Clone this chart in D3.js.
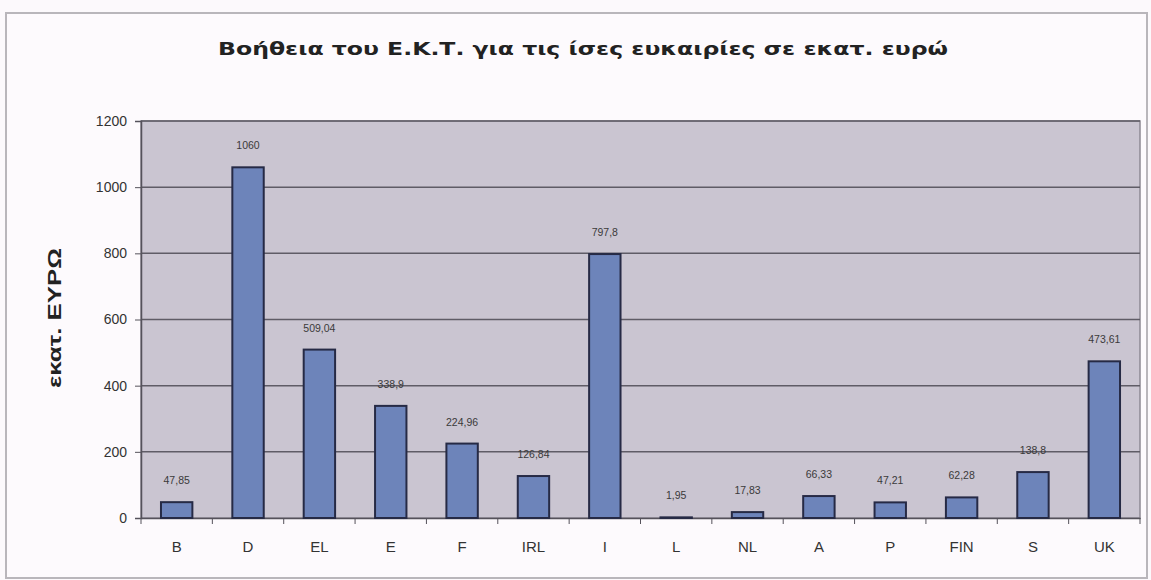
<!DOCTYPE html>
<html>
<head>
<meta charset="utf-8">
<script src="https://cdn.jsdelivr.net/npm/d3@7"></script>
<style>
  html, body { margin: 0; padding: 0; background: #fcf9fc; }
  svg { display: block; }
</style>
</head>
<body>
<svg id="chart" width="1151" height="580"></svg>
<script>
// ESF aid per member state, million euro
const countries = ["B", "D", "EL", "E", "F", "IRL", "I", "L", "NL", "A", "P", "FIN", "S", "UK"];
const amounts = [47.85, 1060, 509.04, 338.9, 224.96, 126.84, 797.8, 1.95, 17.83, 66.33, 47.21, 62.28, 138.8, 473.61];
const valueLabels = ["47,85", "1060", "509,04", "338,9", "224,96", "126,84", "797,8", "1,95", "17,83", "66,33", "47,21", "62,28", "138,8", "473,61"];
const yTicks = [0, 200, 400, 600, 800, 1000, 1200];

const svg = d3.select("#chart");
const m = { left: 141, right: 1140, top: 121, bottom: 518 };
const font = "Liberation Sans, Arial, sans-serif";

// outer frame
svg.append("rect")
  .attr("x", 6).attr("y", 13).attr("width", 1141).attr("height", 565)
  .attr("fill", "#fdfafd").attr("stroke", "#b9b6bb").attr("stroke-width", 2);

const x = d3.scaleBand().domain(countries).range([m.left, m.right]).paddingInner(0.56).paddingOuter(0.28);
const y = d3.scaleLinear().domain([0, 1200]).range([m.bottom, m.top]);

// plot area
svg.append("rect")
  .attr("x", m.left).attr("y", m.top)
  .attr("width", m.right - m.left).attr("height", m.bottom - m.top)
  .attr("fill", "#cac5d1").attr("stroke", "#8d8993").attr("stroke-width", 1.5);

// grid lines
svg.append("g").selectAll("line").data(yTicks.filter(d => d > 0)).join("line")
  .attr("x1", m.left).attr("x2", m.right)
  .attr("y1", d => y(d)).attr("y2", d => y(d))
  .attr("stroke", "#5f5c66").attr("stroke-width", 1.5);

// y axis
const yAxis = svg.append("g").attr("transform", `translate(${m.left},0)`)
  .call(d3.axisLeft(y).tickValues(yTicks).tickFormat(d3.format("d")).tickSize(6).tickPadding(8));
yAxis.select(".domain").attr("stroke", "#55525b").attr("stroke-width", 1.5);
yAxis.selectAll(".tick line").attr("stroke", "#55525b");
yAxis.selectAll("text").attr("font-family", font)
  .attr("font-size", 14).attr("fill", "#333");

// x axis
const xAxis = svg.append("g").attr("transform", `translate(0,${m.bottom})`)
  .call(d3.axisBottom(x).tickSize(0).tickPadding(23));
xAxis.select(".domain").attr("stroke", "#55525b").attr("stroke-width", 1.5);
xAxis.selectAll("text").attr("font-family", font)
  .attr("font-size", 15).attr("fill", "#333");

// category separator ticks below the axis
const sep = d3.scaleLinear().domain([0, countries.length]).range([m.left, m.right]);
svg.append("g").selectAll("line").data(d3.range(countries.length + 1)).join("line")
  .attr("x1", i => sep(i)).attr("x2", i => sep(i))
  .attr("y1", m.bottom).attr("y2", m.bottom + 6)
  .attr("stroke", "#55525b").attr("stroke-width", 1);

// bars
const data = countries.map((c, i) => ({ c, v: amounts[i], label: valueLabels[i] }));
svg.append("g").selectAll("rect").data(data).join("rect")
  .attr("x", d => x(d.c)).attr("y", d => y(d.v))
  .attr("width", x.bandwidth()).attr("height", d => y(0) - y(d.v))
  .attr("fill", "#6d84ba").attr("stroke", "#262a45").attr("stroke-width", 2);

// value labels
svg.append("g").selectAll("text").data(data).join("text")
  .attr("x", d => x(d.c) + x.bandwidth() / 2)
  .attr("y", d => y(d.v) - 18)
  .attr("text-anchor", "middle")
  .attr("font-family", font)
  .attr("font-size", 10.5).attr("fill", "#3a3a3a")
  .text(d => d.label);

// title
svg.append("text")
  .attr("x", 583).attr("y", 55).attr("text-anchor", "middle")
  .attr("font-family", "DejaVu Sans Condensed, DejaVu Sans, sans-serif").attr("font-weight", "bold")
  .attr("font-size", 18).attr("fill", "#222")
  .attr("textLength", 730).attr("lengthAdjust", "spacingAndGlyphs")
  .text("Βοήθεια του Ε.Κ.Τ. για τις ίσες ευκαιρίες σε εκατ. ευρώ");

// y axis title
svg.append("text")
  .attr("transform", "translate(61,318) rotate(-90)")
  .attr("text-anchor", "middle")
  .attr("font-family", font).attr("font-weight", "bold")
  .attr("font-size", 19).attr("fill", "#222")
  .attr("textLength", 140).attr("lengthAdjust", "spacingAndGlyphs")
  .text("εκατ.  ΕΥΡΩ");
</script>
</body>
</html>
